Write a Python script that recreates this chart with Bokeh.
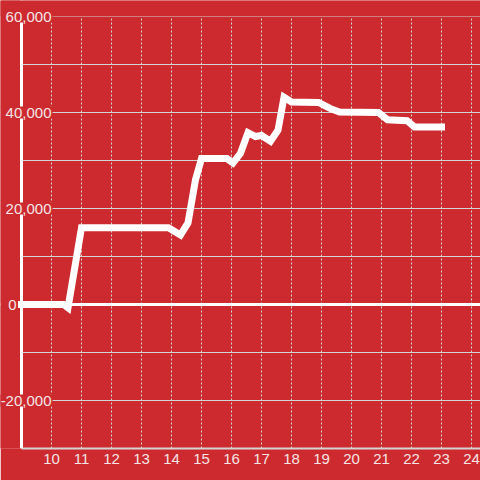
from bokeh.plotting import figure
from bokeh.models import Range1d, FixedTicker, Span, Label, BoxAnnotation
from bokeh.embed import file_html
from bokeh.resources import INLINE

# data (hour of day -> value)
hours = [9.0, 10.4, 10.55, 11.0, 13.9, 14.3, 14.55, 14.8, 15.0, 15.85, 16.05, 16.3,
         16.55, 16.8, 17.0, 17.3, 17.55, 17.75, 18.0, 18.9, 19.3, 19.6, 20.9, 21.2,
         21.85, 22.1, 23.0]
values = [0, 0, -700, 16000, 16000, 14500, 17000, 26000, 30400, 30400, 29500, 31500,
          35800, 35000, 35200, 34000, 36300, 43200, 42200, 42100, 40800, 40100, 40000,
          38500, 38300, 37000, 37000]

x_ticks = [10, 11, 12, 13, 14, 15, 16, 17, 18, 19, 20, 21, 22, 23, 24]
y_grid = [-30000, -20000, -10000, 0, 10000, 20000, 30000, 40000, 50000, 60000]
y_label_vals = [-20000, 0, 20000, 40000, 60000]
y_label_text = ["-20,000", "0", "20,000", "40,000", "60,000"]

BG = "#cc2a2f"
GRID = "#d4d4d4"
TXT = "#f4e4e4"
FONT = "Liberation Sans"

# axis origin and scale (30 px per hour, 96 px per 20,000)
x_axis_pos, y_top_val, y_bot_val = 9.0, 60000, -30000
x_start = x_axis_pos - 21 / 30
x_end = x_axis_pos + 459 / 30
y_end = y_top_val + 16 / 96 * 20000

p = figure(width=480, height=480, output_backend="svg", toolbar_location=None,
           x_range=Range1d(x_start, x_end), y_range=Range1d(y_bot_val, y_end),
           min_border_left=0, min_border_right=0, min_border_top=0,
           min_border_bottom=32)
p.background_fill_color = BG
p.border_fill_color = BG
p.outline_line_color = None

p.yaxis.visible = False
xa = p.xaxis[0]
xa.ticker = FixedTicker(ticks=x_ticks)
xa.bounds = (x_axis_pos, x_end)
xa.axis_line_color = GRID
xa.axis_line_width = 2
xa.major_tick_out = 0
xa.major_tick_in = 0
xa.minor_tick_out = 0
xa.minor_tick_in = 0
xa.major_label_text_color = TXT
xa.major_label_text_font = FONT
xa.major_label_text_font_size = "15px"
xa.major_label_standoff = 5

p.xgrid.ticker = FixedTicker(ticks=x_ticks)
p.xgrid.grid_line_color = GRID
p.xgrid.grid_line_dash = "2 2"
p.xgrid.grid_line_width = 1
p.ygrid.ticker = FixedTicker(ticks=y_grid)
p.ygrid.grid_line_color = GRID
p.ygrid.grid_line_width = 1

p.add_layout(Span(location=0, dimension="width", line_color="white", line_width=3))
# mask outside the plotting area (left of the axis, above the top value)
p.add_layout(BoxAnnotation(right=x_axis_pos, fill_color=BG, fill_alpha=1, line_color=None))
p.add_layout(Span(location=x_axis_pos, dimension="height", line_color="white", line_width=3))
p.add_layout(BoxAnnotation(bottom=y_top_val, fill_color=BG, fill_alpha=1, line_color=None))

p.line(hours, values, line_color="white", line_width=7, line_join="miter",
       line_cap="square", level="overlay")

for v, t in zip(y_label_vals, y_label_text):
    lx = x_axis_pos + (31 / 30 if v != 0 else -4 / 30)
    p.add_layout(Label(x=lx, y=v, text=t, text_align="right", text_baseline="middle",
                       text_color=TXT, text_font=FONT, text_font_size="15px",
                       background_fill_color=BG, padding=1))

open("out.html", "w").write(file_html(p, INLINE))
